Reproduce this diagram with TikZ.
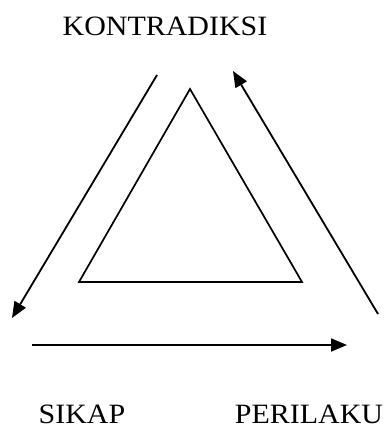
\documentclass[tikz,border=0pt]{standalone}
\usepackage{fontspec}
\setmainfont{Liberation Serif}[FakeStretch=1.07]
\usetikzlibrary{arrows.meta}
\tikzset{
  term/.style={font=\fontsize{28}{30}\selectfont,inner sep=0pt},
  core/.style={line width=1.7pt,line join=miter},
  flow/.style={-{Triangle[length=16pt,width=13pt]},line width=1.8pt},
}
\begin{document}
\begin{tikzpicture}[x=1pt,y=-1pt]
  \useasboundingbox (0,0) rectangle (388,430);
  \node[term] (kontra) at (165,26.5) {KONTRADIKSI};
  \node[term] (sikap) at (82,414) {SIKAP};
  \node[term] (perilaku) at (309,414) {PERILAKU};
  % inner triangle
  \coordinate (apex) at (190,89);
  \coordinate (left) at (79,282);
  \coordinate (right) at (302,282);
  \draw[core] (apex) -- (left) -- (right) -- cycle;
  % cycle of arrows
  \coordinate (k1) at (157,75);
  \coordinate (s1) at (12,318);
  \coordinate (s2) at (32,345);
  \coordinate (p1) at (347,345);
  \coordinate (p2) at (378,314);
  \coordinate (k2) at (233,71);
  \draw[flow] (k1) -- (s1);
  \draw[flow] (s2) -- (p1);
  \draw[flow] (p2) -- (k2);
\end{tikzpicture}
\end{document}
